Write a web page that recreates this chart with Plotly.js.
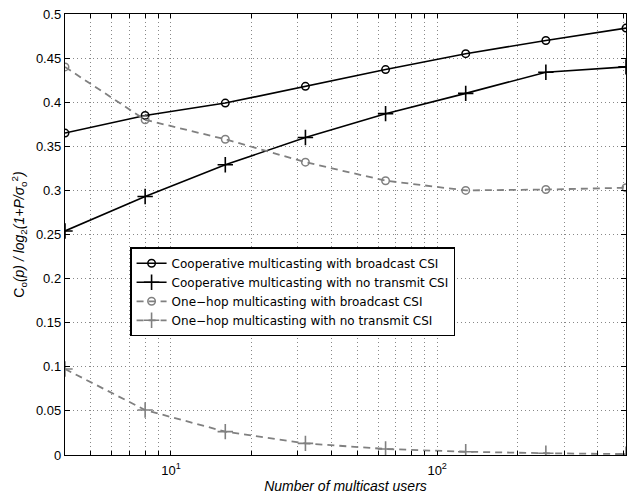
<!DOCTYPE html>
<html>
<head>
<meta charset="utf-8">
<script src="https://cdn.plot.ly/plotly-3.0.1.min.js"></script>
<style>html,body{margin:0;padding:0;background:#fff;}#chart{width:627px;height:494px;}</style>
</head>
<body>
<div id="chart"></div>
<script>
const users = [4, 8, 16, 32, 64, 128, 256, 512];
const coopBroadcast = [0.365, 0.385, 0.399, 0.418, 0.437, 0.455, 0.470, 0.484];
const coopNoCSI = [0.254, 0.293, 0.329, 0.360, 0.387, 0.410, 0.434, 0.440];
const oneHopBroadcast = [0.440, 0.380, 0.358, 0.332, 0.311, 0.300, 0.301, 0.303];
const oneHopNoCSI = [0.0975, 0.051, 0.0265, 0.0132, 0.0068, 0.0037, 0.002, 0.001];
const seriesNames = [
  'Cooperative multicasting with broadcast CSI',
  'Cooperative multicasting with no transmit CSI',
  'One\u2212hop multicasting with broadcast CSI',
  'One\u2212hop multicasting with no transmit CSI'
];
const xTickVals = [4,5,6,7,8,9,10,20,30,40,50,60,70,80,90,100,200,300,400,500];
const xTickText = ['','','','','','','10<sup>1</sup>','','','','','','','','','10<sup>2</sup>','','','',''];
const yTickVals = [0,0.05,0.1,0.15,0.2,0.25,0.3,0.35,0.4,0.45,0.5];
const yTickText = ['0','0.05','0.1','0.15','0.2','0.25','0.3','0.35','0.4','0.45','0.5'];

const black = '#000000', gray = '#808080';
const traces = [
  {x: users, y: coopBroadcast, name: seriesNames[0], mode: 'lines+markers',
   line: {color: black, width: 1.6},
   marker: {symbol: 'circle-open', size: 7.5, color: black, line: {width: 1.5, color: black}}},
  {x: users, y: coopNoCSI, name: seriesNames[1], mode: 'lines+markers',
   line: {color: black, width: 1.6},
   marker: {symbol: 'cross-thin-open', size: 11, color: black, line: {width: 1.6, color: black}}},
  {x: users, y: oneHopBroadcast, name: seriesNames[2], mode: 'lines+markers',
   line: {color: gray, width: 1.8, dash: '7px,5px'},
   marker: {symbol: 'circle-open', size: 7.5, color: gray, line: {width: 1.5, color: gray}}},
  {x: users, y: oneHopNoCSI, name: seriesNames[3], mode: 'lines+markers',
   line: {color: gray, width: 1.8, dash: '7px,5px'},
   marker: {symbol: 'cross-thin-open', size: 11, color: gray, line: {width: 1.6, color: gray}}}
];

const layout = {
  width: 627, height: 494,
  margin: {l: 65, r: 1, t: 14, b: 39},
  paper_bgcolor: '#fff', plot_bgcolor: '#fff',
  font: {family: 'Liberation Sans, Arial, sans-serif', size: 13, color: '#000'},
  showlegend: true,
  legend: {x: 0.116, y: 0.471, xanchor: 'left', yanchor: 'top',
    bgcolor: '#fff', bordercolor: '#000', borderwidth: 1.5,
    font: {family: 'DejaVu Sans, sans-serif', size: 12}, itemwidth: 30, tracegroupgap: 0},
  xaxis: {type: 'log', range: [Math.log10(4), Math.log10(512)],
    tickmode: 'array', tickvals: xTickVals, ticktext: xTickText,
    showgrid: true, gridcolor: '#888', griddash: '1px,3px', gridwidth: 1,
    ticks: 'inside', ticklen: 4, tickcolor: '#000', mirror: 'ticks',
    ticklabelstandoff: 3,
    showline: true, linecolor: '#000', linewidth: 1.2, zeroline: false,
    title: {text: '<i>Number of multicast users</i>', font: {size: 14}, standoff: 6}},
  yaxis: {range: [0, 0.5], tickmode: 'array', tickvals: yTickVals, ticktext: yTickText,
    showgrid: true, gridcolor: '#888', griddash: '1px,3px', gridwidth: 1,
    ticks: 'inside', ticklen: 5, tickcolor: '#000', mirror: 'ticks',
    showline: true, linecolor: '#000', linewidth: 1.2, zeroline: false,
    title: {text: 'C<sub>o</sub><i>(p) / log</i><sub>2</sub><i>(1+P/σ</i><sub>o</sub><sup>2</sup><i>)</i>', font: {size: 14}, standoff: 8}}
};

Plotly.newPlot('chart', traces, layout, {displayModeBar: false, staticPlot: true});
</script>
</body>
</html>
